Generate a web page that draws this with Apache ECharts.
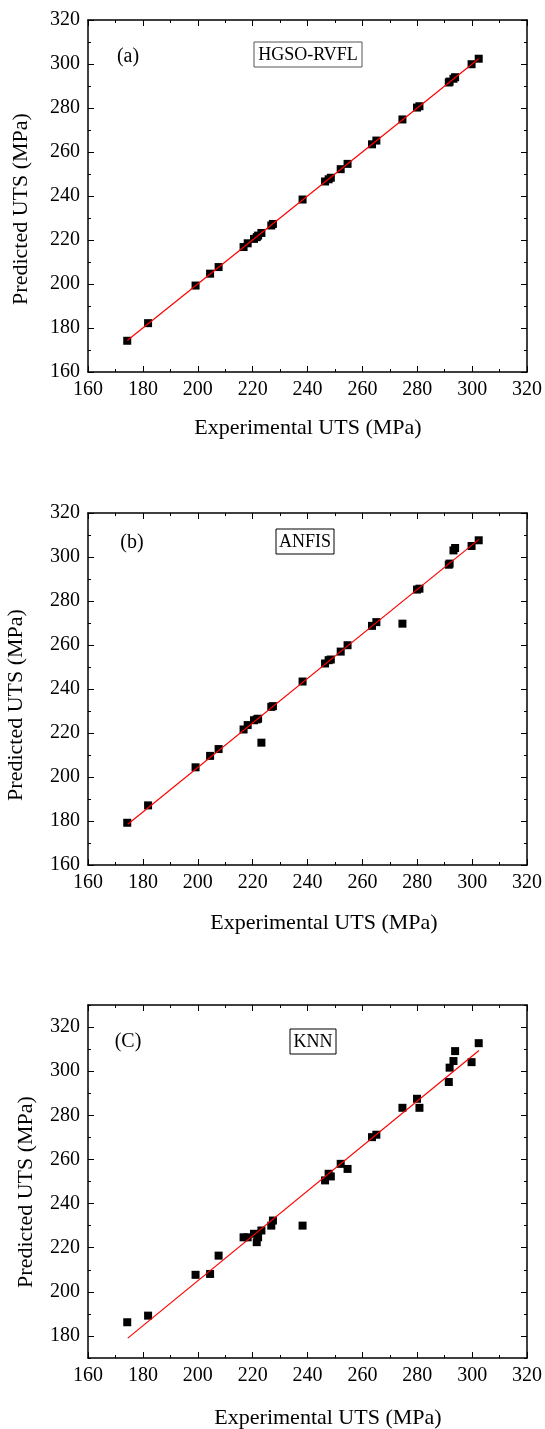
<!DOCTYPE html>
<html lang="en">
<head>
  <meta charset="utf-8">
  <title>Experimental vs predicted UTS</title>
  <style>
    body { margin: 0; background: #fff; }
    #main { width: 545px; height: 1429px; }
  </style>
</head>
<body>
  <div id="main"></div>
  <script src="https://cdn.jsdelivr.net/npm/echarts@6/dist/echarts.min.js"></script>
  <script>
    // experimental UTS, shared by the three panels
    var expUTS = [174.3, 181.9, 199.2, 204.5, 207.6, 216.7, 218.2, 220.5, 221.5, 222.0,
      223.2, 226.8, 227.4, 238.2, 246.4, 247.7, 248.5, 252.1, 254.6, 263.5,
      265.1, 274.6, 279.9, 280.8, 291.5, 291.8, 293.2, 293.8, 299.8, 302.4];

    // predicted UTS per model
    var predHGSO = [174.2, 182.2, 199.3, 204.7, 207.7, 216.8, 218.5, 220.5, 221.3, 222.0,
      223.2, 226.6, 227.3, 238.4, 246.6, 247.6, 248.3, 252.2, 254.6, 263.5,
      265.2, 274.8, 280.2, 280.8, 291.6, 292.0, 293.3, 294.0, 299.9, 302.4];
    var predANFIS = [179.2, 187.1, 204.4, 209.6, 212.7, 221.6, 223.6, 225.8, 226.2, 226.5,
      215.6, 231.9, 232.2, 243.4, 251.6, 253.1, 253.4, 257.0, 259.9, 268.7,
      270.4, 269.7, 285.2, 285.6, 296.5, 297.0, 303.0, 304.1, 305.0, 307.6];
    var predKNN = [186.2, 189.2, 207.7, 208.1, 216.4, 224.7, 224.7, 226.3, 222.5, 224.7,
      227.8, 230.0, 232.3, 230.0, 250.5, 253.5, 252.3, 258.0, 255.7, 270.1,
      271.2, 283.4, 287.5, 283.4, 295.1, 301.6, 304.6, 309.1, 304.1, 312.7];

    // fitted lines (end points)
    var fitHGSO = [[174.3, 174.3], [302.4, 302.4]];
    var fitANFIS = [[174.5, 178.5], [302.5, 308.0]];
    var fitKNN = [[174.5, 179.0], [302.5, 309.4]];

    // tick labels / major tick positions
    var xTicks = [160, 180, 200, 220, 240, 260, 280, 300, 320];
    var yTicksAB = [160, 180, 200, 220, 240, 260, 280, 300, 320];
    var yTicksC = [180, 200, 220, 240, 260, 280, 300, 320];

    var FONT = 'Liberation Serif';

    function pairs(xs, ys) {
      return xs.map(function (x, i) { return [x, ys[i]]; });
    }

    var lineCol = { color: '#000', width: 1.5 };
    var tickCol = { color: '#000', width: 1 };

    // labels only for values listed in the given tick array
    function labelFrom(list) {
      return {
        show: true, margin: 8, color: '#000', fontFamily: FONT, fontSize: 20,
        formatter: function (v) { return list.indexOf(Math.round(v)) >= 0 ? String(Math.round(v)) : ''; }
      };
    }

    function frameAxis(g, pos, min, max, interval, labels, majorTicks) {
      var ax = {
        type: 'value', gridIndex: g, position: pos,
        min: min, max: max, interval: interval,
        axisLine: { show: true, onZero: false, lineStyle: lineCol },
        axisTick: { show: true, inside: true, length: 6, lineStyle: tickCol },
        minorTick: { show: true, splitNumber: 2, length: 3, lineStyle: tickCol },
        splitLine: { show: false },
        axisLabel: labels ? labelFrom(labels) : { show: false }
      };
      if (majorTicks) {
        ax.axisTick.customValues = majorTicks;
        ax.minorTick.show = false;
      }
      return ax;
    }

    function minorAxis(g, pos, min, max) {
      return {
        type: 'value', gridIndex: g, position: pos,
        min: min, max: max, interval: 10,
        axisLine: { show: false },
        axisTick: { show: true, inside: true, length: 3, lineStyle: tickCol },
        splitLine: { show: false },
        axisLabel: { show: false }
      };
    }

    var grids = [
      { left: 88, top: 20, width: 439, height: 352, containLabel: false },
      { left: 88, top: 513, width: 439, height: 352, containLabel: false },
      { left: 88, top: 1005, width: 439, height: 353, containLabel: false }
    ];

    var xAxes = [
      frameAxis(0, 'bottom', 160, 320, 20, xTicks), frameAxis(0, 'top', 160, 320, 20, null),
      frameAxis(1, 'bottom', 160, 320, 20, xTicks), frameAxis(1, 'top', 160, 320, 20, null),
      frameAxis(2, 'bottom', 160, 320, 20, xTicks), frameAxis(2, 'top', 160, 320, 20, null)
    ];

    var yAxes = [
      frameAxis(0, 'left', 160, 320, 20, yTicksAB), frameAxis(0, 'right', 160, 320, 20, null),
      frameAxis(1, 'left', 160, 320, 20, yTicksAB), frameAxis(1, 'right', 160, 320, 20, null),
      frameAxis(2, 'left', 170, 330, 10, yTicksC, yTicksC), frameAxis(2, 'right', 170, 330, 10, null, yTicksC),
      minorAxis(2, 'left', 170, 330), minorAxis(2, 'right', 170, 330)
    ];

    function scatter(idx, data) {
      return {
        type: 'scatter', xAxisIndex: idx, yAxisIndex: idx, data: data,
        symbol: 'rect', symbolSize: 8, itemStyle: { color: '#000', opacity: 1 }, z: 3
      };
    }
    function fit(idx, data) {
      return {
        type: 'line', xAxisIndex: idx, yAxisIndex: idx, data: data,
        showSymbol: false, symbol: 'none', lineStyle: { color: '#ff0000', width: 1.2 }, z: 4
      };
    }

    function txt(x, y, s, size, rot) {
      return {
        type: 'text', x: x, y: y, rotation: rot || 0,
        style: { text: s, fill: '#000', fontFamily: FONT, fontSize: size, align: 'center', verticalAlign: 'middle' }
      };
    }
    function box(cx, cy, w, h, s, stroke) {
      return {
        type: 'group', children: [
          { type: 'rect', shape: { x: cx - w / 2, y: cy - h / 2, width: w, height: h },
            style: { fill: '#fff', stroke: stroke, lineWidth: 1 } },
          txt(cx, cy + 1, s, 18)
        ]
      };
    }

    var chart = echarts.init(document.getElementById('main'));
    chart.setOption({
      animation: false,
      backgroundColor: '#fff',
      textStyle: { fontFamily: FONT },
      grid: grids,
      xAxis: xAxes,
      yAxis: yAxes,
      series: [
        scatter(0, pairs(expUTS, predHGSO)), fit(0, fitHGSO),
        scatter(2, pairs(expUTS, predANFIS)), fit(2, fitANFIS),
        scatter(4, pairs(expUTS, predKNN)), fit(4, fitKNN)
      ],
      graphic: [
        txt(308, 428, 'Experimental UTS (MPa)', 22),
        txt(324, 923, 'Experimental UTS (MPa)', 22),
        txt(328, 1418, 'Experimental UTS (MPa)', 22),
        txt(21, 209, 'Predicted UTS (MPa)', 22, Math.PI / 2),
        txt(16, 705, 'Predicted UTS (MPa)', 22, Math.PI / 2),
        txt(26, 1192, 'Predicted UTS (MPa)', 22, Math.PI / 2),
        txt(128, 57, '(a)', 20),
        txt(132, 543, '(b)', 20),
        txt(128, 1042, '(C)', 20),
        box(308, 54.5, 108, 25, 'HGSO-RVFL', '#555'),
        box(305, 541.5, 58, 25, 'ANFIS', '#000'),
        box(313, 1041.5, 46, 25, 'KNN', '#000')
      ]
    });
  </script>
</body>
</html>
